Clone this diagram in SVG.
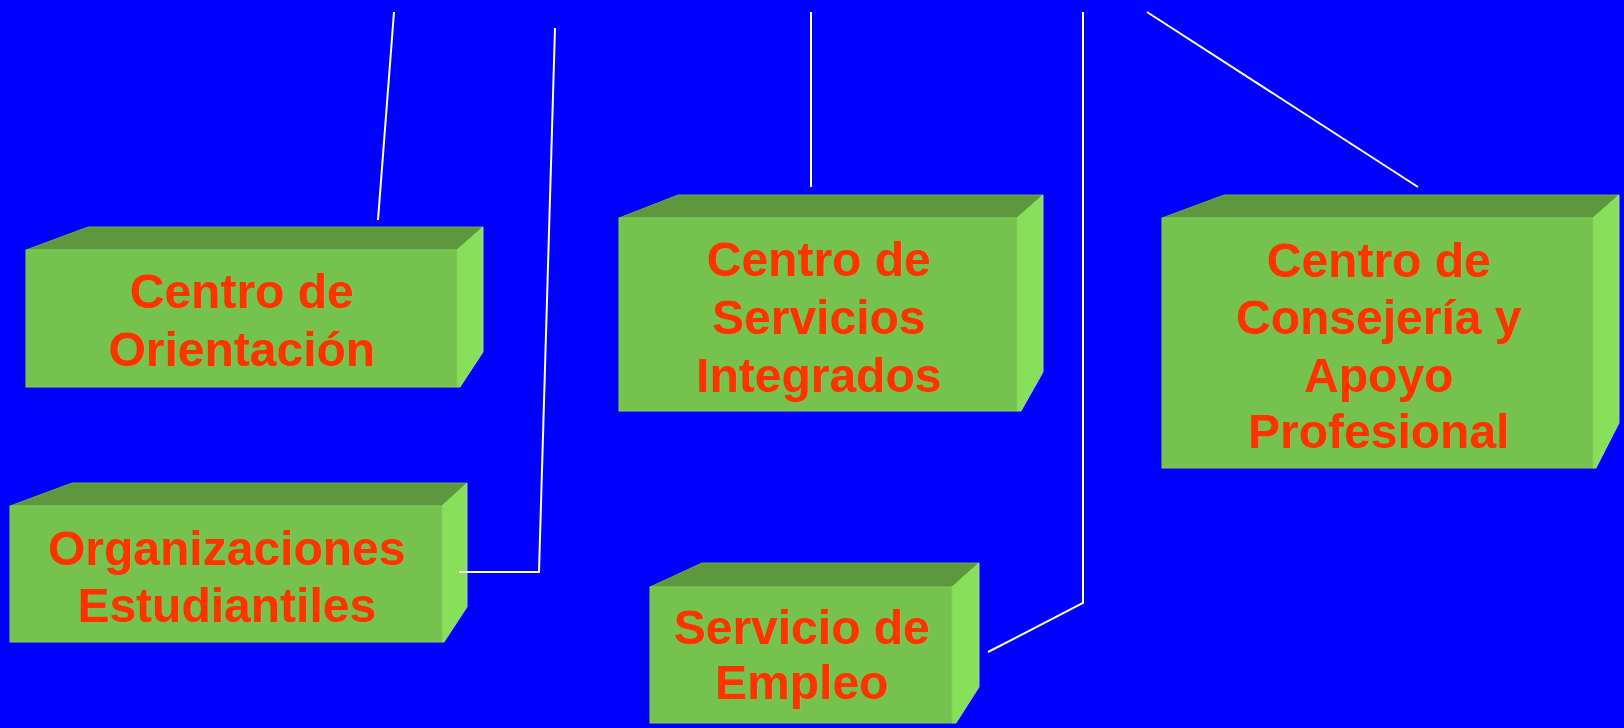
<svg xmlns="http://www.w3.org/2000/svg" width="1624" height="728" viewBox="0 0 1624 728">
  <style>
    .front { fill: #76C24F; stroke: #82CC5C; stroke-width: 1; }
    .top { fill: #5D983E; stroke: #6AA64A; stroke-width: 1; }
    .side { fill: #88E05A; stroke: #8FE563; stroke-width: 1; }
    .label { font-family: "Liberation Sans", Arial, sans-serif; font-weight: bold; font-size: 48px; fill: #FF3300; text-anchor: middle; }
    .conn { fill: none; stroke: #FFFFFF; stroke-width: 2; }
  </style>
  <rect x="0" y="0" width="1624" height="728" fill="#0000FF"/>

  <g id="node-orientacion">
    <polygon class="top" points="26,250 88,227 483,227 457,250"/>
    <polygon class="side" points="457,250 483,227 483,352 460,387 457,387"/>
    <rect class="front" x="26" y="250" width="431" height="137"/>
    <text class="label" x="242" y="308">Centro de</text>
    <text class="label" x="242" y="366">Orientación</text>
  </g>

  <g id="node-organizaciones">
    <polygon class="top" points="10,506 72,483 467,483 442,506"/>
    <polygon class="side" points="442,506 467,483 467,607 444,642 442,642"/>
    <rect class="front" x="10" y="506" width="432" height="136"/>
    <text class="label" x="227" y="565">Organizaciones</text>
    <text class="label" x="227" y="622">Estudiantiles</text>
  </g>

  <g id="node-servicios">
    <polygon class="top" points="619,218 678,195 1043,195 1017,218"/>
    <polygon class="side" points="1017,218 1043,195 1043,372 1021,411 1017,411"/>
    <rect class="front" x="619" y="218" width="398" height="193"/>
    <text class="label" x="819" y="276">Centro de</text>
    <text class="label" x="819" y="334">Servicios</text>
    <text class="label" x="819" y="392">Integrados</text>
  </g>

  <g id="node-empleo">
    <polygon class="top" points="650,587 702,563 979,563 952,587"/>
    <polygon class="side" points="952,587 979,563 979,687 956,723 952,723"/>
    <rect class="front" x="650" y="587" width="302" height="136"/>
    <text class="label" x="802" y="644">Servicio de</text>
    <text class="label" x="802" y="699">Empleo</text>
  </g>

  <g id="node-consejeria">
    <polygon class="top" points="1162,218 1224,195 1619,195 1593,218"/>
    <polygon class="side" points="1593,218 1619,195 1619,423 1596,468 1593,468"/>
    <rect class="front" x="1162" y="218" width="431" height="250"/>
    <text class="label" x="1379" y="277">Centro de</text>
    <text class="label" x="1379" y="334">Consejería y</text>
    <text class="label" x="1379" y="392">Apoyo</text>
    <text class="label" x="1379" y="448">Profesional</text>
  </g>

  <g id="connectors">
    <polyline class="conn" points="394,12 378,220"/>
    <polyline class="conn" points="555,28 539,572 459,572"/>
    <polyline class="conn" points="811,12 811,187"/>
    <polyline class="conn" points="1083,12 1083,603 988,652"/>
    <polyline class="conn" points="1147,12 1418,187"/>
  </g>
</svg>
